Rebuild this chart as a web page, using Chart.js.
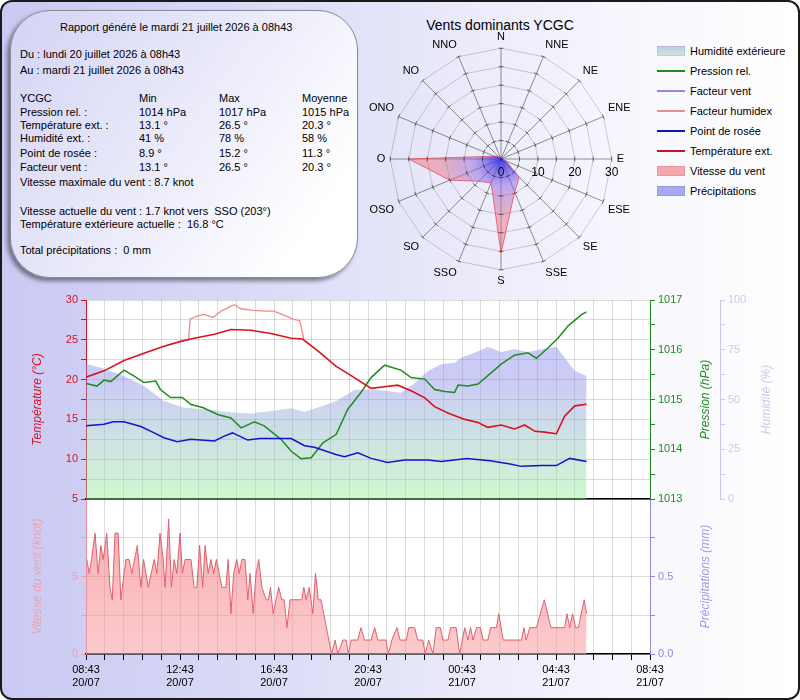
<!DOCTYPE html>
<html lang="fr">
<head>
<meta charset="utf-8">
<title>Rapport météo YCGC</title>
<script src="https://cdn.jsdelivr.net/npm/chart.js@4.4.1/dist/chart.umd.min.js"></script>
<style>
    html, body { margin: 0; padding: 0; }
    body {
        position: relative;
        width: 800px;
        height: 700px;
        overflow: hidden;
        font-family: "Liberation Sans", Arial, sans-serif;
        font-size: 11px;
        color: #000;
    }
    #frame {
        position: absolute; left: 0; top: 0;
        width: 800px; height: 700px;
        box-sizing: border-box;
        border: 2px solid #1a1a1a;
        border-radius: 12px;
        background: linear-gradient(to right, #c9c9f3 0%, #dfdff8 40%, #f5f5fd 75%, #ffffff 100%);
    }
    #report {
        position: absolute; left: 10px; top: 10px;
        width: 348px; height: 268px;
        box-sizing: border-box;
        border-radius: 40px;
        border: 1px solid #8a8a9a;
        box-shadow: -3px 3px 4px rgba(0, 0, 0, 0.45);
        background: linear-gradient(125deg, #d3d3f5 0%, #ececfb 50%, #ffffff 85%);
    }
    .txt { position: absolute; white-space: pre; line-height: 14px; }
    #roseTitle {
        position: absolute; left: 400px; width: 200px; top: 17px;
        text-align: center; font-size: 14px; line-height: 16px;
    }
    .leg { position: absolute; left: 657px; height: 14px; width: 140px; }
    .leg .sw { position: absolute; left: 0; width: 28px; }
    .leg .lb { position: absolute; left: 33px; top: 0; line-height: 14px; white-space: nowrap; }
    canvas { position: absolute; }
    #rose { left: 368px; top: 19px; z-index: 2; }
    #mainChart { left: 0; top: 290px; z-index: 3; }
    #windChart { left: 0; top: 489px; z-index: 2; }
</style>
</head>
<body>
<div id="frame"></div>
<div id="report"></div>
<div id="reportText"></div>
<div id="roseTitle">Vents dominants YCGC</div>
<div id="legend"></div>
<canvas id="rose" width="264" height="280"></canvas>
<canvas id="mainChart" width="800" height="220"></canvas>
<canvas id="windChart" width="800" height="211"></canvas>

<script>
// ---- report text ----
const reportLines = [
    [60, 20, "Rapport généré le mardi 21 juillet 2026 à 08h43"],
    [20, 47, "Du : lundi 20 juillet 2026 à 08h43"],
    [20, 63, "Au : mardi 21 juillet 2026 à 08h43"],
    [20, 175, "Vitesse maximale du vent : 8.7 knot"],
    [20, 204, "Vitesse actuelle du vent : 1.7 knot vers  SSO (203°)"],
    [20, 217, "Température extérieure actuelle :  16.8 °C"],
    [20, 243, "Total précipitations :  0 mm"],
];
const statColumns = [20, 139, 219, 302];
const statTops = [91, 105, 118, 131, 146, 160];
const statRows = [
    ["YCGC", "Min", "Max", "Moyenne"],
    ["Pression rel. :", "1014 hPa", "1017 hPa", "1015 hPa"],
    ["Température ext. :", "13.1 °", "26.5 °", "20.3 °"],
    ["Humidité ext. :", "41 %", "78 %", "58 %"],
    ["Point de rosée :", "8.9 °", "15.2 °", "11.3 °"],
    ["Facteur vent :", "13.1 °", "26.5 °", "20.3 °"],
];

// ---- legend ----
const legendLabels = ["Humidité extérieure", "Pression rel.", "Facteur vent", "Facteur humidex",
    "Point de rosée", "Température ext.", "Vitesse du vent", "Précipitations"];
const legendKinds = ["box", "line", "line", "line", "line", "line", "box", "box"];
const legendColors = ["linear-gradient(#c4c6f2, #c6ead6)", "#1e8c1e", "#8c8ce6", "#f08a8e",
    "#1414b4", "#c8141e", "#f4a8ae", "#a8a8f4"];

// ---- wind rose ----
const windDirections = ["N", "NNE", "NE", "ENE", "E", "ESE", "SE", "SSE",
    "S", "SSO", "SO", "OSO", "O", "ONO", "NO", "NNO"];
const windRoseValues = [0.5, 0.5, 0.5, 0.5, 0.5, 1.5, 7, 9.7, 25.5, 7, 8.5, 15, 25, 2, 1, 0.5];

// ---- time series (minutes after 20/07 08:43) ----
const tempMinutes = [0, 46, 97, 148, 199, 242, 276, 328, 370, 421, 472, 524, 553, 592, 638, 677, 728,
    762, 796, 830, 865, 890, 924, 967, 1001, 1026, 1060, 1094, 1120, 1146, 1171, 1201, 1222, 1248, 1278];
const tempValues = [20.3, 21.1, 22.4, 23.3, 24.2, 24.8, 25.2, 25.7, 26.3, 26.2, 25.8, 25.2, 25.1, 23.6,
    21.7, 20.5, 18.9, 19.1, 19.3, 18.6, 17.7, 16.6, 15.8, 15.0, 14.6, 14.0, 14.3, 13.8, 14.3, 13.5, 13.4,
    13.2, 15.4, 16.7, 16.9];

const humidexMinutes = [262, 266, 285, 302, 324, 345, 378, 396, 426, 460, 480, 510, 528, 546, 556];
const humidexValues = [25.0, 27.6, 28.0, 28.2, 27.8, 28.6, 29.4, 28.9, 28.7, 28.6, 28.6, 28.0, 27.6, 27.4, 25.1];

const dewMinutes = [0, 46, 70, 97, 140, 174, 199, 233, 267, 328, 353, 374, 413, 443, 524, 558, 583,
    638, 660, 694, 728, 770, 813, 873, 907, 972, 1032, 1083, 1111, 1162, 1201, 1235, 1278];
const dewValues = [14.2, 14.4, 14.7, 14.7, 14.1, 13.3, 12.7, 12.2, 12.5, 12.3, 12.9, 13.3, 12.4, 12.6,
    12.6, 11.7, 11.5, 10.6, 10.3, 10.8, 10.1, 9.6, 9.9, 9.9, 9.7, 10.1, 9.8, 9.4, 9.1, 9.2, 9.2, 10.1, 9.7];

const pressureMinutes = [0, 28, 46, 63, 97, 123, 148, 178, 190, 216, 246, 268, 298, 336, 370, 396, 430,
    455, 498, 524, 549, 575, 605, 639, 668, 702, 728, 762, 804, 830, 865, 890, 916, 941, 950, 975, 1001,
    1035, 1060, 1094, 1128, 1150, 1180, 1206, 1231, 1266, 1278];
const pressureValues = [1015.32, 1015.27, 1015.39, 1015.36, 1015.59, 1015.47, 1015.34, 1015.37, 1015.2,
    1015.04, 1015.04, 1014.9, 1014.84, 1014.7, 1014.63, 1014.43, 1014.55, 1014.47, 1014.2, 1013.96,
    1013.81, 1013.83, 1014.13, 1014.3, 1014.8, 1015.14, 1015.44, 1015.69, 1015.59, 1015.44, 1015.41,
    1015.2, 1015.16, 1015.14, 1015.29, 1015.27, 1015.31, 1015.54, 1015.71, 1015.89, 1015.94, 1015.83,
    1016.04, 1016.24, 1016.48, 1016.71, 1016.76];

const humidityMinutes = [0, 46, 97, 148, 199, 250, 311, 362, 421, 472, 524, 558, 609, 639, 685, 728,
    770, 804, 838, 873, 907, 941, 958, 992, 1026, 1060, 1094, 1128, 1162, 1201, 1222, 1248, 1278];
const humidityValues = [68, 65.5, 61.8, 56.8, 49.2, 45.9, 45, 43.7, 43, 44.2, 45.6, 43.7, 47.1, 49.2,
    54.8, 55, 54.3, 53.4, 58.1, 64.3, 67.7, 68.5, 71, 73.5, 76.4, 73.9, 75.2, 73.9, 75.2, 76.5, 71, 64.3, 61.8];

const windMinutes = [2, 8, 14, 23, 31, 38, 44, 53, 61, 67, 74, 82, 89, 102, 110, 117, 131, 140, 147, 159,
    174, 181, 189, 197, 202, 211, 218, 225, 232, 240, 246, 253, 268, 276, 283, 290, 298, 304, 312, 319,
    326, 333, 340, 347, 357, 363, 370, 377, 385, 391, 398, 406, 413, 419, 427, 434, 441, 449, 460, 466,
    471, 478, 492, 500, 506, 513, 521, 551, 556, 562, 570, 579, 586, 593, 600, 627, 636, 643, 656, 664,
    670, 677, 694, 702, 711, 728, 737, 745, 766, 772, 781, 794, 802, 818, 824, 839, 847, 860, 866, 875,
    886, 894, 905, 911, 924, 931, 945, 954, 967, 975, 982, 988, 997, 1007, 1014, 1026, 1033, 1048, 1054,
    1065, 1112, 1118, 1124, 1133, 1150, 1170, 1187, 1222, 1228, 1235, 1242, 1250, 1257, 1272, 1278];
const windKnots = [6.1, 5.2, 6.1, 7.8, 5.2, 7.0, 6.1, 7.8, 4.3, 3.5, 7.8, 7.8, 3.5, 6.1, 6.1, 5.2, 7.0,
    4.3, 6.1, 4.3, 6.1, 5.2, 7.8, 6.1, 4.3, 8.7, 4.3, 6.1, 5.2, 7.8, 5.2, 6.1, 6.1, 4.3, 4.3, 7.0, 4.3,
    7.0, 5.2, 6.1, 5.2, 6.1, 5.2, 4.3, 4.3, 6.1, 2.6, 5.2, 6.1, 5.2, 6.1, 6.1, 3.5, 5.2, 2.6, 5.2, 6.1,
    4.3, 3.5, 3.5, 4.3, 2.6, 4.3, 3.5, 3.5, 1.7, 3.5, 3.5, 4.3, 3.5, 4.3, 2.6, 5.2, 3.5, 3.5, 0, 0.9, 0,
    0.9, 0.9, 0, 0.9, 0.9, 1.7, 0.9, 0.9, 1.7, 0.9, 0.9, 0, 0.9, 1.7, 0.9, 0.9, 1.7, 1.7, 0.9, 0.9, 0,
    0.9, 0, 1.7, 1.7, 0.9, 0.9, 1.7, 1.7, 0, 1.7, 0.9, 1.7, 0.9, 1.7, 1.7, 0.9, 0.9, 1.7, 1.7, 2.6, 0.9,
    0.9, 1.7, 0.9, 1.7, 1.7, 3.5, 1.7, 1.7, 2.6, 1.7, 2.6, 1.7, 1.7, 3.5, 2.6];

const rainMinutes = [0, 240, 480, 720, 960, 1200, 1278];
const rainValues = [0, 0, 0, 0, 0, 0, 0];

const START_MINUTE = 8 * 60 + 43; // 20/07 à 08h43
const FONT = "'Liberation Sans', Arial, sans-serif";
Chart.defaults.font.family = FONT;
Chart.defaults.font.size = 11;

// ---- build the text parts ----
const textLayer = document.getElementById("reportText");
function addText(left, top, text) {
    const d = document.createElement("div");
    d.className = "txt";
    d.style.left = left + "px";
    d.style.top = top + "px";
    d.textContent = text;
    textLayer.appendChild(d);
}
reportLines.forEach(([x, y, t]) => addText(x, y, t));
statRows.forEach((row, r) => row.forEach((cell, c) => addText(statColumns[c], statTops[r], cell)));

const legendBox = document.getElementById("legend");
legendLabels.forEach((label, i) => {
    const item = document.createElement("div");
    item.className = "leg";
    item.style.top = (44 + i * 20) + "px";
    const sw = document.createElement("div");
    sw.className = "sw";
    if (legendKinds[i] === "box") {
        sw.style.top = "2px";
        sw.style.height = "10px";
        sw.style.background = legendColors[i];
        sw.style.boxShadow = "inset 0 0 0 1px rgba(0,0,0,0.08)";
    } else {
        sw.style.top = "6px";
        sw.style.height = "1.5px";
        sw.style.background = legendColors[i];
    }
    const lb = document.createElement("div");
    lb.className = "lb";
    lb.textContent = label;
    item.appendChild(sw);
    item.appendChild(lb);
    legendBox.appendChild(item);
});

// ---- helpers ----
function toPoints(xs, ys) {
    return xs.map((x, i) => ({ x: x, y: ys[i] }));
}

function timeLabel(value) {
    if (value % 240 !== 0) return "";
    const t = START_MINUTE + value;
    const hh = String(Math.floor(t / 60) % 24).padStart(2, "0");
    const mm = String(t % 60).padStart(2, "0");
    const day = 20 + Math.floor(t / 1440);
    return [`${hh}:${mm}`, `${day}/07`];
}

const plotBackground = {
    id: "plotBackground",
    beforeDraw(chart) {
        const { ctx, chartArea: a } = chart;
        ctx.save();
        ctx.fillStyle = "#ffffff";
        ctx.fillRect(a.left, a.top, a.width, a.height);
        ctx.restore();
    },
};

// axis titles, all reading bottom to top
const axisTitles = {
    id: "axisTitles",
    afterDraw(chart, args, opts) {
        const { ctx, chartArea: a } = chart;
        const yMid = (a.top + a.bottom) / 2;
        ctx.save();
        ctx.font = "italic 12px " + FONT;
        ctx.textAlign = "center";
        ctx.textBaseline = "middle";
        (opts.items || []).forEach((t) => {
            ctx.save();
            ctx.translate(t.x, yMid);
            ctx.rotate(-Math.PI / 2);
            ctx.fillStyle = t.color;
            ctx.fillText(t.text, 0, 0);
            ctx.restore();
        });
        ctx.restore();
    },
};

// tick marks on the spokes and scale labels along the east spoke
const roseTicks = {
    id: "roseTicks",
    afterDraw(chart) {
        const s = chart.scales.r;
        const ctx = chart.ctx;
        ctx.save();
        ctx.strokeStyle = "rgba(0,0,0,0.5)";
        ctx.lineWidth = 1;
        for (let i = 0; i < chart.data.labels.length; i++) {
            const ang = s.getIndexAngle(i) - Math.PI / 2;
            const px = -Math.sin(ang);
            const py = Math.cos(ang);
            s.ticks.forEach((tick) => {
                if (tick.value <= 0) return;
                const p = s.getPointPositionForValue(i, tick.value);
                ctx.beginPath();
                ctx.moveTo(p.x - px * 2.5, p.y - py * 2.5);
                ctx.lineTo(p.x + px * 2.5, p.y + py * 2.5);
                ctx.stroke();
            });
        }
        ctx.fillStyle = "#000";
        ctx.font = "12px " + FONT;
        ctx.textAlign = "center";
        ctx.textBaseline = "middle";
        s.ticks.forEach((tick) => {
            if (tick.value % 10 !== 0) return;
            const d = s.getDistanceFromCenterForValue(tick.value);
            ctx.fillText(String(tick.value), s.xCenter + d, s.yCenter + 14);
        });
        ctx.restore();
    },
};

function roseFill(context) {
    const chart = context.chart;
    const s = chart.scales.r;
    if (!s || !s.drawingArea) return "rgba(235,110,120,0.45)";
    const g = chart.ctx.createRadialGradient(s.xCenter, s.yCenter, 0, s.xCenter, s.yCenter, s.drawingArea);
    g.addColorStop(0, "rgba(40,40,235,0.85)");
    g.addColorStop(0.25, "rgba(140,100,225,0.5)");
    g.addColorStop(0.55, "rgba(238,105,118,0.45)");
    g.addColorStop(1, "rgba(238,105,118,0.45)");
    return g;
}

function humidityFill(context) {
    const { ctx, chartArea } = context.chart;
    if (!chartArea) return "rgba(140,140,235,0.45)";
    const g = ctx.createLinearGradient(0, chartArea.top, 0, chartArea.bottom);
    g.addColorStop(0, "rgba(135,135,235,0.45)");
    g.addColorStop(0.4, "rgba(140,140,235,0.45)");
    g.addColorStop(1, "rgba(150,240,150,0.45)");
    return g;
}

function windFill(context) {
    const { ctx, chartArea } = context.chart;
    if (!chartArea) return "rgba(245,130,140,0.5)";
    const g = ctx.createLinearGradient(0, chartArea.top, 0, chartArea.bottom);
    g.addColorStop(0, "rgba(242,110,120,0.6)");
    g.addColorStop(1, "rgba(248,150,155,0.5)");
    return g;
}

const gridColor = "rgba(0,0,0,0.14)";

// ---- wind rose ----
new Chart(document.getElementById("rose"), {
    type: "radar",
    data: {
        labels: windDirections,
        datasets: [{
            data: windRoseValues,
            borderColor: "rgba(235,70,80,0.75)",
            borderWidth: 1,
            backgroundColor: roseFill,
            fill: true,
            pointRadius: 0,
        }],
    },
    options: {
        responsive: false,
        animation: false,
        plugins: { legend: { display: false }, tooltip: { enabled: false } },
        scales: {
            r: {
                min: 0,
                max: 30,
                ticks: { stepSize: 5, display: false },
                grid: { color: "rgba(0,0,0,0.18)" },
                angleLines: { color: "rgba(0,0,0,0.42)" },
                pointLabels: { color: "#000", font: { size: 11 }, padding: 5 },
            },
        },
    },
    plugins: [roseTicks],
});

// ---- temperature / pressure / humidity ----
new Chart(document.getElementById("mainChart"), {
    type: "line",
    data: {
        datasets: [
            {
                label: "Température ext.",
                data: toPoints(tempMinutes, tempValues),
                borderColor: "#d8121e",
                borderWidth: 1.6,
                yAxisID: "yTemp",
                order: 0,
            },
            {
                label: "Facteur humidex",
                data: toPoints(humidexMinutes, humidexValues),
                borderColor: "#f08a8e",
                borderWidth: 1.3,
                yAxisID: "yTemp",
                order: 1,
            },
            {
                label: "Point de rosée",
                data: toPoints(dewMinutes, dewValues),
                borderColor: "#1414c8",
                borderWidth: 1.5,
                yAxisID: "yTemp",
                order: 2,
            },
            {
                label: "Pression rel.",
                data: toPoints(pressureMinutes, pressureValues),
                borderColor: "#1e8c1e",
                borderWidth: 1.5,
                yAxisID: "yPress",
                order: 3,
            },
            {
                label: "Humidité extérieure",
                data: toPoints(humidityMinutes, humidityValues),
                borderWidth: 0,
                borderColor: "rgba(0,0,0,0)",
                backgroundColor: humidityFill,
                fill: "origin",
                yAxisID: "yHum",
                order: 4,
            },
        ],
    },
    options: {
        responsive: false,
        animation: false,
        layout: { padding: { top: 10, left: 0, right: 0, bottom: 0 } },
        elements: { point: { radius: 0 }, line: { tension: 0 } },
        plugins: {
            legend: { display: false },
            tooltip: { enabled: false },
            axisTitles: {
                items: [
                    { text: "Température (°C)", x: 38, color: "#d8121e" },
                    { text: "Pression (hPa)", x: 706, color: "#1e8c1e" },
                    { text: "Humidité (%)", x: 767, color: "#c8c8ee" },
                ],
            },
        },
        scales: {
            x: {
                type: "linear",
                min: 0,
                max: 1440,
                ticks: { display: false, stepSize: 48, maxTicksLimit: 100 },
                grid: { color: gridColor, drawTicks: false },
                border: { color: "#000", width: 1.5 },
                afterFit(s) { s.height = 11; },
            },
            yTemp: {
                position: "left",
                min: 5,
                max: 30,
                ticks: {
                    stepSize: 2.5,
                    color: "#d8121e",
                    padding: 3,
                    callback: (v) => (v % 5 === 0 ? v : ""),
                },
                grid: { color: gridColor, tickColor: "#d8121e", tickLength: 5 },
                border: { color: "#d8121e" },
                afterFit(s) { s.width = 86; },
            },
            yPress: {
                position: "right",
                min: 1013,
                max: 1017,
                ticks: {
                    stepSize: 0.5,
                    color: "#1e8c1e",
                    padding: 3,
                    callback: (v) => (Number.isInteger(v) ? v : ""),
                },
                grid: { drawOnChartArea: false, color: "#1e8c1e", tickLength: 5 },
                border: { color: "#1e8c1e" },
                afterFit(s) { s.width = 70; },
            },
            yHum: {
                position: "right",
                min: 0,
                max: 100,
                ticks: {
                    stepSize: 12.5,
                    color: "#c8c8ee",
                    padding: 3,
                    callback: (v) => (v % 25 === 0 ? v : ""),
                },
                grid: { drawOnChartArea: false, color: "#c8c8ee", tickLength: 5 },
                border: { color: "#c8c8ee" },
                afterFit(s) { s.width = 80; },
            },
        },
    },
    plugins: [plotBackground, axisTitles],
});

// ---- wind speed / rain ----
new Chart(document.getElementById("windChart"), {
    type: "line",
    data: {
        datasets: [
            {
                label: "Vitesse du vent",
                data: toPoints(windMinutes, windKnots),
                borderColor: "#e2606e",
                borderWidth: 1,
                backgroundColor: windFill,
                fill: "origin",
                yAxisID: "yWind",
                order: 0,
            },
            {
                label: "Précipitations",
                data: toPoints(rainMinutes, rainValues),
                borderColor: "rgba(120,120,230,0.8)",
                borderWidth: 1,
                backgroundColor: "rgba(160,160,240,0.6)",
                fill: "origin",
                yAxisID: "yRain",
                order: 1,
            },
        ],
    },
    options: {
        responsive: false,
        animation: false,
        layout: { padding: { top: 10, left: 0, right: 0, bottom: 0 } },
        elements: { point: { radius: 0 }, line: { tension: 0 } },
        plugins: {
            legend: { display: false },
            tooltip: { enabled: false },
            axisTitles: {
                items: [
                    { text: "Vitesse du vent (knot)", x: 38, color: "#f0a2ac" },
                    { text: "Précipitations (mm)", x: 706, color: "#9a9ae6" },
                ],
            },
        },
        scales: {
            x: {
                type: "linear",
                min: 0,
                max: 1440,
                ticks: {
                    stepSize: 48,
                    maxTicksLimit: 100,
                    autoSkip: false,
                    maxRotation: 0,
                    color: "#000",
                    padding: 3,
                    callback: (v) => timeLabel(v),
                },
                grid: { color: gridColor, tickColor: "#000", tickLength: 6 },
                border: { color: "#000", width: 1.5 },
                afterFit(s) { s.height = 46; },
            },
            yWind: {
                position: "left",
                min: 0,
                max: 10,
                ticks: {
                    stepSize: 2.5,
                    color: "#f0a2ac",
                    padding: 3,
                    callback: (v) => (v === 0 || v === 5 ? v : ""),
                },
                grid: { color: gridColor, tickColor: "#f0a2ac", tickLength: 5 },
                border: { color: "#ec8f9a" },
                afterFit(s) { s.width = 86; },
            },
            yRain: {
                position: "right",
                min: 0,
                max: 1,
                ticks: {
                    stepSize: 0.25,
                    color: "#8c8ce0",
                    padding: 3,
                    callback: (v) => (v === 0 || v === 0.5 ? v.toFixed(1) : ""),
                },
                grid: { drawOnChartArea: false, color: "#8c8ce0", tickLength: 5 },
                border: { color: "#8c8ce0" },
                afterFit(s) { s.width = 150; },
            },
        },
    },
    plugins: [plotBackground, axisTitles],
});
</script>
</body>
</html>
